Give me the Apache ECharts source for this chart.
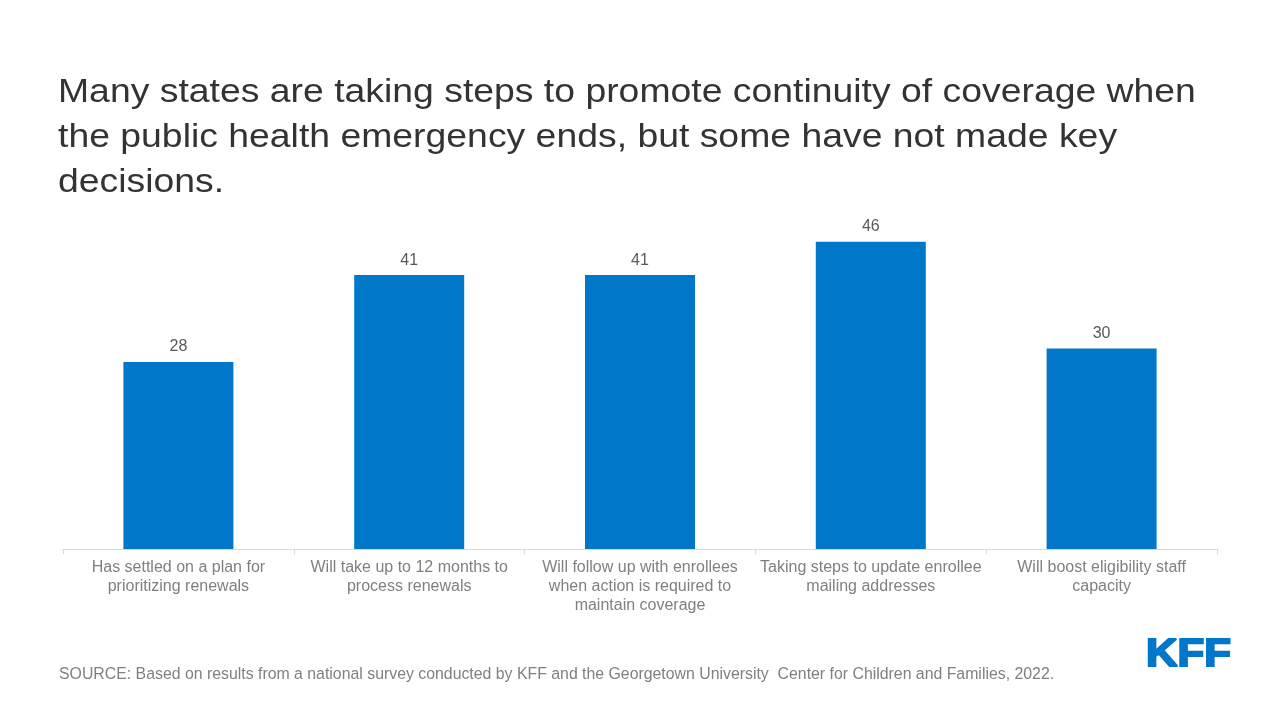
<!DOCTYPE html>
<html>
<head>
<meta charset="utf-8">
<script src="https://cdn.jsdelivr.net/npm/echarts@6/dist/echarts.min.js"></script>
<style>
html,body{margin:0;padding:0;background:#fff;}
#chart{width:1280px;height:720px;}
</style>
</head>
<body>
<div id="chart"></div>
<script>
const titleLines = [
  "Many states are taking steps to promote continuity of coverage when",
  "the public health emergency ends, but some have not made key",
  "decisions."
];
const categories = [
  "Has settled on a plan for\nprioritizing renewals",
  "Will take up to 12 months to\nprocess renewals",
  "Will follow up with enrollees\nwhen action is required to\nmaintain coverage",
  "Taking steps to update enrollee\nmailing addresses",
  "Will boost eligibility staff\ncapacity"
];
const values = [28, 41, 41, 46, 30];
const sourceText = "SOURCE: Based on results from a national survey conducted by KFF and the Georgetown University  Center for Children and Families, 2022.";
const logoText = "KFF";

const FONT = '"Liberation Sans", Arial, sans-serif';
const chart = echarts.init(document.getElementById('chart'));
chart.setOption({
  backgroundColor: '#fff',
  animation: false,
  grid: { left: 63, right: 63, top: 215, bottom: 171 },
  xAxis: {
    type: 'category',
    data: categories,
    axisLine: { show: true, lineStyle: { color: '#d9d9d9', width: 1 } },
    axisTick: { show: true, length: 5, lineStyle: { color: '#d9d9d9' } },
    axisLabel: {
      interval: 0,
      margin: 9,
      fontFamily: FONT,
      fontSize: 16,
      lineHeight: 19,
      color: '#808080',
      align: 'center'
    }
  },
  yAxis: {
    type: 'value',
    min: 0,
    max: 50,
    show: false,
    splitLine: { show: false }
  },
  series: [{
    type: 'bar',
    data: values,
    barWidth: 110,
    itemStyle: { color: '#0077C8' },
    label: {
      show: true,
      position: 'top',
      distance: 7,
      fontFamily: FONT,
      fontSize: 16,
      color: '#595959'
    }
  }],
  graphic: [
    {
      type: 'text',
      x: 58,
      y: 70,
      scaleX: 1.132,
      style: {
        text: titleLines.join('\n'),
        font: '33px ' + FONT,
        lineHeight: 45,
        fill: '#333333',
        verticalAlign: 'top'
      }
    },
    {
      type: 'text',
      x: 59,
      y: 667,
      style: {
        text: sourceText,
        font: '15.85px ' + FONT,
        fill: '#808080'
      }
    },
    {
      type: 'text',
      x: 1146,
      y: 675,
      scaleX: 1.15,
      style: {
        text: logoText,
        font: 'bold 38px ' + FONT,
        fill: '#0077C8',
        stroke: '#0077C8',
        lineWidth: 2,
        verticalAlign: 'bottom'
      }
    }
  ]
});
</script>
</body>
</html>
